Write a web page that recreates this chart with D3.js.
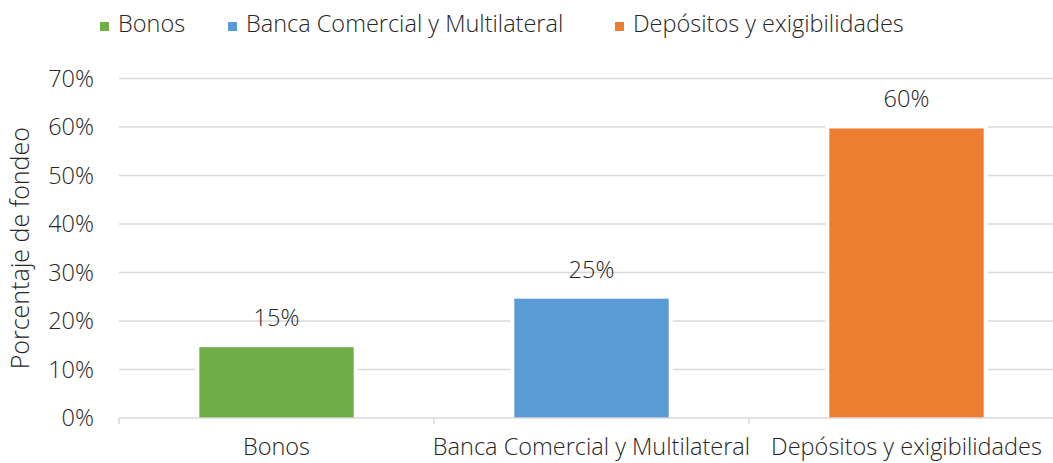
<!DOCTYPE html>
<html>
<head>
<meta charset="utf-8">
<script src="https://cdn.jsdelivr.net/npm/d3@7"></script>
<style>
  body { margin: 0; background: #fff; }
  svg text { font-family: "Open Sans", "DejaVu Sans", sans-serif; font-weight: 300; fill: #262626; }
</style>
</head>
<body>
<svg id="chart" width="1053" height="463"></svg>
<script>
// chart data
const categories = ["Bonos", "Banca Comercial y Multilateral", "Depósitos y exigibilidades"];
const values     = [0.146, 0.246, 0.597];
const labels     = ["15%", "25%", "60%"];
const colors     = ["#70AD47", "#5B9BD5", "#ED7D31"];
const yTicks     = [0, 0.1, 0.2, 0.3, 0.4, 0.5, 0.6, 0.7];

let svg = d3.select("#chart"),
    width = 1053,
    fs = "23.5px";

let x = d3.scaleBand()
          .domain(categories)
          .range([119, 1064])
          .paddingInner(0.51)
          .paddingOuter(0.255);

let y = d3.scaleLinear()
          .domain([0, 0.7])
          .range([418, 78.5]);

// gridlines
svg.append("g")
    .selectAll("line")
    .data(yTicks.slice(1))
    .enter().append("line")
        .attr("x1", 119).attr("x2", width)
        .attr("y1", d => y(d)).attr("y2", d => y(d))
        .attr("stroke", "#d9d9d9")
        .attr("stroke-width", 1.5);

// y tick labels
svg.append("g")
    .selectAll("text")
    .data(yTicks)
    .enter().append("text")
        .attr("x", 94)
        .attr("y", d => y(d))
        .attr("dy", "0.36em")
        .attr("text-anchor", "end")
        .style("font-size", fs)
        .text(d => d3.format(".0%")(d));

// y title
svg.append("text")
    .attr("transform", "translate(29," + y(0.35) + ") rotate(-90)")
    .attr("text-anchor", "middle")
    .style("font-size", "25px")
    .text("Porcentaje de fondeo");

// white gaps around bars, then bars
let bars = svg.append("g").selectAll("g")
    .data(categories)
    .enter().append("g");

bars.append("rect")
    .attr("x", d => x(d) - 4)
    .attr("width", x.bandwidth() + 8)
    .attr("y", (d, i) => y(values[i]) - 4)
    .attr("height", (d, i) => y(0) - y(values[i]) + 4)
    .attr("fill", "#fff");

bars.append("rect")
    .attr("x", d => x(d))
    .attr("width", x.bandwidth())
    .attr("y", (d, i) => y(values[i]))
    .attr("height", (d, i) => y(0) - y(values[i]))
    .attr("fill", (d, i) => colors[i]);

// data labels
bars.append("text")
    .attr("x", d => x(d) + x.bandwidth() / 2)
    .attr("y", (d, i) => y(values[i]) - 21)
    .attr("text-anchor", "middle")
    .style("font-size", fs)
    .text((d, i) => labels[i]);

// x axis line and ticks
svg.append("line")
    .attr("x1", 119).attr("x2", width)
    .attr("y1", y(0)).attr("y2", y(0))
    .attr("stroke", "#d9d9d9")
    .attr("stroke-width", 1.5);

let step = x.step();
svg.append("g")
    .selectAll("line")
    .data(d3.range(categories.length + 1))
    .enter().append("line")
        .attr("x1", i => 119 + i * step).attr("x2", i => 119 + i * step)
        .attr("y1", y(0)).attr("y2", y(0) + 6)
        .attr("stroke", "#d9d9d9")
        .attr("stroke-width", 1.5);

// category labels
svg.append("g")
    .selectAll("text")
    .data(categories)
    .enter().append("text")
        .attr("x", d => x(d) + x.bandwidth() / 2)
        .attr("y", 455)
        .attr("text-anchor", "middle")
        .style("font-size", fs)
        .text(d => d);

// legend
let legendX = [100, 228, 615];
let legend = svg.append("g")
    .selectAll("g")
    .data(categories)
    .enter().append("g")
        .attr("transform", (d, i) => "translate(" + legendX[i] + ",0)");

legend.append("rect")
    .attr("x", 0).attr("y", 22)
    .attr("width", 9).attr("height", 9)
    .attr("fill", (d, i) => colors[i]);

legend.append("text")
    .attr("x", 18)
    .attr("y", 32)
    .style("font-size", fs)
    .text(d => d);
</script>
</body>
</html>
